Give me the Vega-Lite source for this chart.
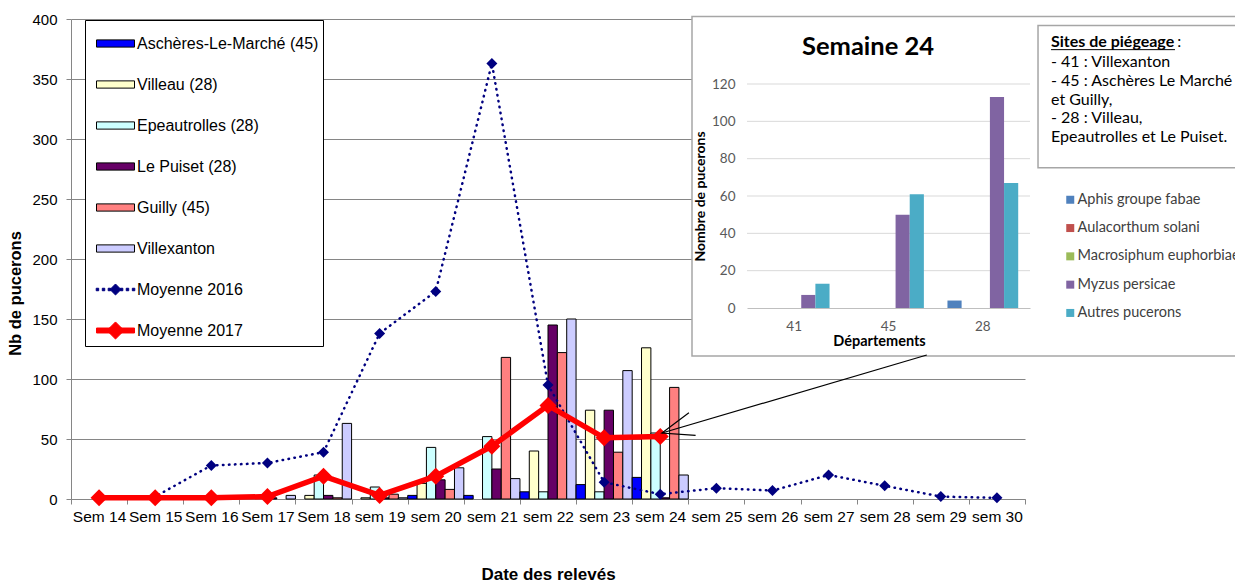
{
  "$schema": "https://vega.github.io/schema/vega-lite/v6.json",
  "width": 954,
  "height": 480,
  "autosize": {"type": "none"},
  "padding": {"left": 71, "top": 19, "right": 210, "bottom": 83},
  "background": "white",
  "config": {"view": {"stroke": null}, "font": "Liberation Sans"},
  "resolve": {"scale": {"x": "independent", "y": "independent", "color": "independent", "xOffset": "independent"}},
  "layer": [
    {
      "data": {"values": [
        {"week": "Sem 17", "site": "Le Puiset (28)", "n": 1},
        {"week": "Sem 17", "site": "Villexanton", "n": 3},
        {"week": "Sem 18", "site": "Villeau (28)", "n": 3},
        {"week": "Sem 18", "site": "Epeautrolles (28)", "n": 20},
        {"week": "Sem 18", "site": "Le Puiset (28)", "n": 3},
        {"week": "Sem 18", "site": "Guilly (45)", "n": 1},
        {"week": "Sem 18", "site": "Villexanton", "n": 63},
        {"week": "sem 19", "site": "Villeau (28)", "n": 1},
        {"week": "sem 19", "site": "Epeautrolles (28)", "n": 10},
        {"week": "sem 19", "site": "Le Puiset (28)", "n": 1},
        {"week": "sem 19", "site": "Guilly (45)", "n": 4},
        {"week": "sem 19", "site": "Villexanton", "n": 1},
        {"week": "sem 20", "site": "Aschères-Le-Marché (45)", "n": 3},
        {"week": "sem 20", "site": "Villeau (28)", "n": 13},
        {"week": "sem 20", "site": "Epeautrolles (28)", "n": 43},
        {"week": "sem 20", "site": "Le Puiset (28)", "n": 16},
        {"week": "sem 20", "site": "Guilly (45)", "n": 8},
        {"week": "sem 20", "site": "Villexanton", "n": 26},
        {"week": "sem 21", "site": "Aschères-Le-Marché (45)", "n": 3},
        {"week": "sem 21", "site": "Epeautrolles (28)", "n": 52},
        {"week": "sem 21", "site": "Le Puiset (28)", "n": 25},
        {"week": "sem 21", "site": "Guilly (45)", "n": 118},
        {"week": "sem 21", "site": "Villexanton", "n": 17},
        {"week": "sem 22", "site": "Aschères-Le-Marché (45)", "n": 6},
        {"week": "sem 22", "site": "Villeau (28)", "n": 40},
        {"week": "sem 22", "site": "Epeautrolles (28)", "n": 6},
        {"week": "sem 22", "site": "Le Puiset (28)", "n": 145},
        {"week": "sem 22", "site": "Guilly (45)", "n": 122},
        {"week": "sem 22", "site": "Villexanton", "n": 150},
        {"week": "sem 23", "site": "Aschères-Le-Marché (45)", "n": 12},
        {"week": "sem 23", "site": "Villeau (28)", "n": 74},
        {"week": "sem 23", "site": "Epeautrolles (28)", "n": 6},
        {"week": "sem 23", "site": "Le Puiset (28)", "n": 74},
        {"week": "sem 23", "site": "Guilly (45)", "n": 39},
        {"week": "sem 23", "site": "Villexanton", "n": 107},
        {"week": "sem 24", "site": "Aschères-Le-Marché (45)", "n": 18},
        {"week": "sem 24", "site": "Villeau (28)", "n": 126},
        {"week": "sem 24", "site": "Epeautrolles (28)", "n": 55},
        {"week": "sem 24", "site": "Le Puiset (28)", "n": 1},
        {"week": "sem 24", "site": "Guilly (45)", "n": 93},
        {"week": "sem 24", "site": "Villexanton", "n": 20}
      ]},
      "mark": {"type": "bar", "stroke": "black", "strokeWidth": 1},
      "encoding": {
        "x": {
          "field": "week", "type": "nominal",
          "scale": {"domain": ["Sem 14", "Sem 15", "Sem 16", "Sem 17", "Sem 18", "sem 19", "sem 20", "sem 21", "sem 22", "sem 23", "sem 24", "sem 25", "sem 26", "sem 27", "sem 28", "sem 29", "sem 30"], "paddingInner": 0, "paddingOuter": 0},
          "axis": {"orient": "bottom", "title": "Date des relevés", "tickBand": "extent", "labelAngle": 0, "labelFont": "Liberation Sans", "labelFontSize": 15.5, "labelColor": "black", "labelPadding": 5, "tickSize": 5, "tickColor": "#868686", "domainColor": "#868686", "titleFont": "Liberation Sans", "titleFontSize": 17, "titleFontWeight": "bold", "titleColor": "black", "titlePadding": 42, "grid": false, "labelOverlap": false, "zindex": 0}
        },
        "xOffset": {"field": "site", "type": "nominal", "scale": {"domain": ["Aschères-Le-Marché (45)", "Villeau (28)", "Epeautrolles (28)", "Le Puiset (28)", "Guilly (45)", "Villexanton"], "paddingInner": 0, "paddingOuter": 0}},
        "y": {
          "field": "n", "type": "quantitative",
          "scale": {"domain": [0, 400], "nice": false},
          "axis": {"orient": "left", "values": [0, 50, 100, 150, 200, 250, 300, 350, 400], "grid": true, "gridColor": "#868686", "domainColor": "#868686", "tickColor": "#868686", "tickSize": 5, "labelPadding": 9, "labelFont": "Liberation Sans", "labelFontSize": 15, "labelColor": "black", "title": "Nb de pucerons", "titleFont": "Liberation Sans", "titleFontSize": 16.5, "titleFontWeight": "bold", "titleColor": "black", "titlePadding": 8, "titleY": 274, "zindex": 0}
        },
        "color": {
          "field": "site", "type": "nominal",
          "scale": {"domain": ["Aschères-Le-Marché (45)", "Villeau (28)", "Epeautrolles (28)", "Le Puiset (28)", "Guilly (45)", "Villexanton", "Moyenne 2016", "Moyenne 2017"], "range": ["#0000FF", "#FFFFCC", "#CCFFFF", "#660066", "#FF8080", "#CCCCFF", "#000080", "#FF0000"]},
          "legend": {
            "orient": "none", "legendX": 14, "legendY": 1, "title": null,
            "strokeColor": "black", "fillColor": "white", "padding": 4,
            "labelFont": "Liberation Sans", "labelFontSize": 16, "labelColor": "black", "labelLimit": 300,
            "symbolSize": 1444, "symbolOffset": 7, "labelOffset": 2, "rowPadding": 13,
            "symbolStrokeWidth": 1, "symbolStrokeColor": "black",
            "symbolType": "M-1,-0.19H1V0.19H-1Z",
            "encoding": {"symbols": {
              "shape": {"value": {"expr": "datum.value === 'Moyenne 2016' ? 'M-1.015,-0.065h0.13v0.13h-0.13Z M-0.695,-0.065h0.13v0.13h-0.13Z M-0.385,-0.065h0.13v0.13h-0.13Z M0.255,-0.065h0.13v0.13h-0.13Z M0.565,-0.065h0.13v0.13h-0.13Z M0.885,-0.065h0.13v0.13h-0.13Z M0,-0.29L0.29,0L0,0.29L-0.29,0Z' : datum.value === 'Moyenne 2017' ? 'M-1,-0.13H1V0.13H-1Z M0,-0.45L0.45,0L0,0.45L-0.45,0Z' : 'M-1,-0.19H1V0.19H-1Z'"}},
              "stroke": {"value": {"expr": "datum.value === 'Moyenne 2016' ? '#000080' : datum.value === 'Moyenne 2017' ? '#FF0000' : 'black'"}},
              "opacity": {"value": 1}
            }}
          }
        }
      }
    },
    {
      "data": {"values": [
        {"week": 14, "v": 1}, {"week": 15, "v": 2}, {"week": 16, "v": 28}, {"week": 17, "v": 30},
        {"week": 18, "v": 39}, {"week": 19, "v": 138}, {"week": 20, "v": 173}, {"week": 21, "v": 363},
        {"week": 22, "v": 95}, {"week": 23, "v": 14}, {"week": 24, "v": 4}, {"week": 25, "v": 9},
        {"week": 26, "v": 7}, {"week": 27, "v": 20}, {"week": 28, "v": 11}, {"week": 29, "v": 2}, {"week": 30, "v": 1}
      ]},
      "mark": {"type": "line", "color": "#000080", "strokeWidth": 2.5, "strokeDash": [0.5, 5.5], "strokeCap": "round", "point": {"shape": "diamond", "size": 121, "filled": true, "color": "#000080"}},
      "encoding": {
        "x": {"field": "week", "type": "quantitative", "scale": {"domain": [13.5, 30.5], "nice": false, "zero": false}, "axis": null},
        "y": {"field": "v", "type": "quantitative", "scale": {"domain": [0, 400], "nice": false}, "axis": null}
      }
    },
    {
      "data": {"values": [
        {"week": 14, "v": 1}, {"week": 15, "v": 1}, {"week": 16, "v": 1}, {"week": 17, "v": 2},
        {"week": 18, "v": 19}, {"week": 19, "v": 3}, {"week": 20, "v": 19}, {"week": 21, "v": 44},
        {"week": 22, "v": 78}, {"week": 23, "v": 51}, {"week": 24, "v": 52}
      ]},
      "mark": {"type": "line", "color": "#FF0000", "strokeWidth": 5.5, "point": {"shape": "diamond", "size": 289, "filled": true, "color": "#FF0000"}},
      "encoding": {
        "x": {"field": "week", "type": "quantitative", "scale": {"domain": [13.5, 30.5], "nice": false, "zero": false}, "axis": null},
        "y": {"field": "v", "type": "quantitative", "scale": {"domain": [0, 400], "nice": false}, "axis": null}
      }
    },
    {
      "data": {"values": [{}]},
      "mark": {"type": "rect", "fill": "white", "stroke": "#A6A6A6", "strokeWidth": 1.5},
      "encoding": {
        "x": {"datum": -1.083, "type": "quantitative", "scale": {"domain": [-0.5, 2.5], "range": [676, 959], "nice": false, "zero": false}, "axis": null},
        "x2": {"datum": 4.73},
        "y": {"datum": -25.75, "type": "quantitative", "scale": {"domain": [0, 120], "range": [289, 65], "nice": false, "zero": false}, "axis": null},
        "y2": {"datum": 156.1}
      }
    },
    {
      "data": {"values": [{"g": 20}, {"g": 40}, {"g": 60}, {"g": 80}, {"g": 100}, {"g": 120}]},
      "mark": {"type": "rule", "color": "#D9D9D9", "strokeWidth": 1},
      "encoding": {
        "x": {"datum": -0.5, "type": "quantitative", "scale": {"domain": [-0.5, 2.5], "range": [676, 959], "nice": false, "zero": false}, "axis": null},
        "x2": {"datum": 2.5},
        "y": {"field": "g", "type": "quantitative", "scale": {"domain": [0, 120], "range": [289, 65], "nice": false, "zero": false}, "axis": null}
      }
    },
    {
      "data": {"values": [
        {"dept": "41", "species": "Myzus persicae", "n": 7},
        {"dept": "41", "species": "Autres pucerons", "n": 13},
        {"dept": "45", "species": "Myzus persicae", "n": 50},
        {"dept": "45", "species": "Autres pucerons", "n": 61},
        {"dept": "28", "species": "Aphis groupe fabae", "n": 4},
        {"dept": "28", "species": "Myzus persicae", "n": 113},
        {"dept": "28", "species": "Autres pucerons", "n": 67}
      ]},
      "mark": {"type": "bar"},
      "encoding": {
        "x": {
          "field": "dept", "type": "nominal",
          "scale": {"domain": ["41", "45", "28"], "range": [676, 959], "paddingInner": 0.25, "paddingOuter": 0.125},
          "axis": {"orient": "bottom", "offset": -191, "labelAngle": 0, "ticks": false, "tickSize": 0, "labelPadding": 11, "labelFont": "Lato", "labelFontSize": 13.5, "labelColor": "#595959", "domainColor": "#BFBFBF", "title": "Départements", "titleFont": "Lato", "titleFontSize": 14.5, "titleFontWeight": "bold", "titleColor": "black", "titlePadding": 2, "titleX": 808, "grid": false, "zindex": 1}
        },
        "xOffset": {"field": "species", "type": "nominal", "scale": {"domain": ["Aphis groupe fabae", "Aulacorthum solani", "Macrosiphum euphorbiae", "Myzus persicae", "Autres pucerons"], "paddingInner": 0, "paddingOuter": 0}},
        "y": {
          "field": "n", "type": "quantitative",
          "scale": {"domain": [0, 120], "range": [289, 65], "nice": false, "zero": false},
          "axis": {"orient": "left", "offset": -676, "values": [0, 20, 40, 60, 80, 100, 120], "grid": false, "domain": false, "ticks": false, "tickSize": 0, "labelPadding": 12, "labelFont": "Lato", "labelFontSize": 13.5, "labelColor": "#595959", "title": "Nombre de pucerons", "titleFont": "Lato", "titleFontSize": 14, "titleFontWeight": "bold", "titleColor": "black", "titlePadding": 4, "zindex": 1}
        },
        "color": {
          "field": "species", "type": "nominal",
          "scale": {"domain": ["Aphis groupe fabae", "Aulacorthum solani", "Macrosiphum euphorbiae", "Myzus persicae", "Autres pucerons"], "range": ["#4F81BD", "#C0504D", "#9BBB59", "#8064A2", "#4BACC6"]},
          "legend": {"orient": "none", "legendX": 992, "legendY": 173.5, "title": null, "symbolType": "square", "symbolSize": 64, "symbolStrokeWidth": 0, "labelFont": "Lato", "labelFontSize": 14.5, "labelColor": "#404040", "labelLimit": 300, "rowPadding": 13.3, "labelOffset": 0, "padding": 0}
        }
      }
    },
    {
      "data": {"values": [{}]},
      "mark": {"type": "text", "font": "Lato", "fontSize": 25.5, "fontWeight": "bold", "color": "black", "align": "center", "baseline": "alphabetic"},
      "encoding": {
        "x": {"datum": 0.783, "type": "quantitative", "scale": {"domain": [-0.5, 2.5], "range": [676, 959], "nice": false, "zero": false}, "axis": null},
        "y": {"datum": 135.6, "type": "quantitative", "scale": {"domain": [0, 120], "range": [289, 65], "nice": false, "zero": false}, "axis": null},
        "text": {"value": "Semaine 24"}
      }
    },
    {
      "data": {"values": [{}]},
      "mark": {"type": "rect", "fill": "white", "stroke": "#A6A6A6", "strokeWidth": 1.5},
      "encoding": {
        "x": {"datum": 2.585, "type": "quantitative", "scale": {"domain": [-0.5, 2.5], "range": [676, 959], "nice": false, "zero": false}, "axis": null},
        "x2": {"datum": 4.73},
        "y": {"datum": 75.1, "type": "quantitative", "scale": {"domain": [0, 120], "range": [289, 65], "nice": false, "zero": false}, "axis": null},
        "y2": {"datum": 151.3}
      }
    },
    {
      "data": {"values": [{}]},
      "mark": {"type": "text", "font": "Lato", "fontSize": 16, "fontWeight": "bold", "color": "black", "align": "left", "baseline": "alphabetic"},
      "encoding": {
        "x": {"datum": 2.723, "type": "quantitative", "scale": {"domain": [-0.5, 2.5], "range": [676, 959], "nice": false, "zero": false}, "axis": null},
        "y": {"datum": 139.9, "type": "quantitative", "scale": {"domain": [0, 120], "range": [289, 65], "nice": false, "zero": false}, "axis": null},
        "text": {"value": "Sites de piégeage"}
      }
    },
    {
      "data": {"values": [{}]},
      "mark": {"type": "text", "font": "Lato", "fontSize": 16, "color": "black", "align": "left", "baseline": "alphabetic"},
      "encoding": {
        "x": {"datum": 4.06, "type": "quantitative", "scale": {"domain": [-0.5, 2.5], "range": [676, 959], "nice": false, "zero": false}, "axis": null},
        "y": {"datum": 139.9, "type": "quantitative", "scale": {"domain": [0, 120], "range": [289, 65], "nice": false, "zero": false}, "axis": null},
        "text": {"value": ":"}
      }
    },
    {
      "data": {"values": [{}]},
      "mark": {"type": "rule", "color": "black", "strokeWidth": 1},
      "encoding": {
        "x": {"datum": 2.723, "type": "quantitative", "scale": {"domain": [-0.5, 2.5], "range": [676, 959], "nice": false, "zero": false}, "axis": null},
        "x2": {"datum": 4.037},
        "y": {"datum": 138.4, "type": "quantitative", "scale": {"domain": [0, 120], "range": [289, 65], "nice": false, "zero": false}, "axis": null}
      }
    },
    {
      "data": {"values": [{}]},
      "mark": {"type": "text", "font": "Lato", "fontSize": 16, "color": "black", "align": "left", "baseline": "alphabetic", "lineHeight": 18.65},
      "encoding": {
        "x": {"datum": 2.723, "type": "quantitative", "scale": {"domain": [-0.5, 2.5], "range": [676, 959], "nice": false, "zero": false}, "axis": null},
        "y": {"datum": 128.9, "type": "quantitative", "scale": {"domain": [0, 120], "range": [289, 65], "nice": false, "zero": false}, "axis": null},
        "text": {"value": ["- 41 : Villexanton", "- 45 : Aschères Le Marché", "et Guilly,", "- 28 : Villeau,", "Epeautrolles et Le Puiset."]}
      }
    },
    {
      "data": {"values": [{"w1": 24.03, "y1": 55, "w2": 28.75, "y2": 120}]},
      "mark": {"type": "rule", "color": "black", "strokeWidth": 1.2},
      "encoding": {
        "x": {"field": "w1", "type": "quantitative", "scale": {"domain": [13.5, 30.5], "nice": false, "zero": false}, "axis": null},
        "x2": {"field": "w2"},
        "y": {"field": "y1", "type": "quantitative", "scale": {"domain": [0, 400], "nice": false}, "axis": null},
        "y2": {"field": "y2"}
      }
    },
    {
      "data": {"values": [{"w1": 24.03, "y1": 55}]},
      "mark": {"type": "point", "shape": "M2,-0.75L0,0L2,0.75", "size": 1000, "angle": 343.6, "filled": false, "stroke": "black", "strokeWidth": 1.2, "opacity": 1},
      "encoding": {
        "x": {"field": "w1", "type": "quantitative", "scale": {"domain": [13.5, 30.5], "nice": false, "zero": false}, "axis": null},
        "y": {"field": "y1", "type": "quantitative", "scale": {"domain": [0, 400], "nice": false}, "axis": null}
      }
    }
  ]
}
